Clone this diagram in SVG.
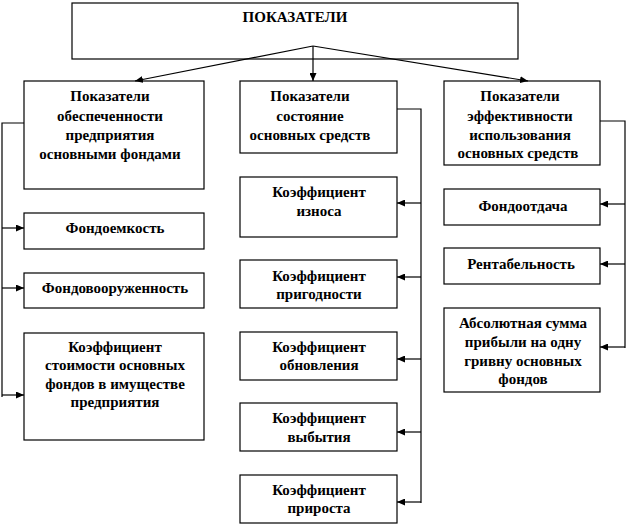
<svg xmlns="http://www.w3.org/2000/svg" width="626" height="526" viewBox="0 0 626 526">
<defs>
<style>
.box{fill:#fff;stroke:#000;stroke-width:1.2}
.lbl{font-family:"Liberation Serif","Times New Roman",serif;font-weight:bold;font-size:15px;fill:#000;text-anchor:middle}
.con{fill:none;stroke:#000;stroke-width:1.2}
</style>
<marker id="ah" markerUnits="userSpaceOnUse" markerWidth="9" markerHeight="7" refX="8" refY="3.5" orient="auto">
<path d="M0,0 L8,3.5 L0,7 z" fill="#000"/>
</marker>
</defs>
<rect x="0" y="0" width="626" height="526" fill="#fff"/>
<g id="n-root"><rect class="box" x="72" y="3" width="446" height="56"/><text class="lbl" x="295" y="22">ПОКАЗАТЕЛИ</text></g>
<g id="n-provision"><rect class="box" x="24" y="81" width="180" height="108"/>
<text class="lbl" x="110" y="101">Показатели</text><text class="lbl" x="110" y="121">обеспеченности</text><text class="lbl" x="110" y="140">предприятия</text><text class="lbl" x="110" y="159">основными фондами</text></g>
<g id="n-state"><rect class="box" x="240" y="81" width="157" height="72"/>
<text class="lbl" x="310" y="101">Показатели</text><text class="lbl" x="310" y="121">состояние</text><text class="lbl" x="310" y="140">основных средств</text></g>
<g id="n-efficiency"><rect class="box" x="444" y="81" width="156" height="84"/>
<text class="lbl" x="520" y="101">Показатели</text><text class="lbl" x="520" y="121">эффективности</text><text class="lbl" x="520" y="140">использования</text><text class="lbl" x="518" y="158">основных средств</text></g>
<g id="n-fondoemk"><rect class="box" x="24" y="213" width="180" height="36"/><text class="lbl" x="115" y="233">Фондоемкость</text></g>
<g id="n-fondovoor"><rect class="box" x="24" y="273" width="180" height="35"/><text class="lbl" x="115" y="293">Фондовооруженность</text></g>
<g id="n-kstoim"><rect class="box" x="24" y="333" width="180" height="107"/>
<text class="lbl" x="115" y="352">Коэффициент</text><text class="lbl" x="115" y="370">стоимости основных</text><text class="lbl" x="115" y="389">фондов в имуществе</text><text class="lbl" x="115" y="407">предприятия</text></g>
<g id="n-iznos"><rect class="box" x="240" y="177" width="157" height="60"/><text class="lbl" x="319" y="197">Коэффициент</text><text class="lbl" x="319" y="216">износа</text></g>
<g id="n-prigod"><rect class="box" x="240" y="260" width="157" height="48"/><text class="lbl" x="319" y="281">Коэффициент</text><text class="lbl" x="319" y="299">пригодности</text></g>
<g id="n-obnov"><rect class="box" x="240" y="332" width="157" height="48"/><text class="lbl" x="319" y="352">Коэффициент</text><text class="lbl" x="319" y="370">обновления</text></g>
<g id="n-vybyt"><rect class="box" x="240" y="403" width="157" height="48"/><text class="lbl" x="319" y="423">Коэффициент</text><text class="lbl" x="319" y="442">выбытия</text></g>
<g id="n-prirost"><rect class="box" x="240" y="475" width="157" height="48"/><text class="lbl" x="319" y="495">Коэффициент</text><text class="lbl" x="319" y="513">прироста</text></g>
<g id="n-fondootd"><rect class="box" x="444" y="189" width="156" height="36"/><text class="lbl" x="523" y="211">Фондоотдача</text></g>
<g id="n-rentab"><rect class="box" x="444" y="248" width="156" height="36"/><text class="lbl" x="521" y="269">Рентабельность</text></g>
<g id="n-abs"><rect class="box" x="444" y="308" width="156" height="84"/>
<text class="lbl" x="523" y="328">Абсолютная сумма</text><text class="lbl" x="523" y="347">прибыли на одну</text><text class="lbl" x="523" y="366">гривну основных</text><text class="lbl" x="523" y="384">фондов</text></g>
<g id="connectors" class="con">
<line x1="313" y1="46" x2="135" y2="81" marker-end="url(#ah)"/>
<line x1="313" y1="46" x2="313" y2="81" marker-end="url(#ah)"/>
<line x1="313" y1="46" x2="528" y2="81" marker-end="url(#ah)"/>
<polyline points="24,123 2,123 2,397"/>
<line x1="2" y1="228" x2="24" y2="228" marker-end="url(#ah)"/>
<line x1="2" y1="288" x2="24" y2="288" marker-end="url(#ah)"/>
<line x1="2" y1="395" x2="24" y2="395" marker-end="url(#ah)"/>
<polyline points="397,109 421,109 421,503"/>
<line x1="421" y1="203" x2="397" y2="203" marker-end="url(#ah)"/>
<line x1="421" y1="277" x2="397" y2="277" marker-end="url(#ah)"/>
<line x1="421" y1="359" x2="397" y2="359" marker-end="url(#ah)"/>
<line x1="421" y1="432" x2="397" y2="432" marker-end="url(#ah)"/>
<line x1="421" y1="502" x2="397" y2="502" marker-end="url(#ah)"/>
<polyline points="600,121 625,121 625,348"/>
<line x1="625" y1="204" x2="600" y2="204" marker-end="url(#ah)"/>
<line x1="625" y1="264" x2="600" y2="264" marker-end="url(#ah)"/>
<line x1="625" y1="347" x2="600" y2="347" marker-end="url(#ah)"/>
</g>
</svg>
